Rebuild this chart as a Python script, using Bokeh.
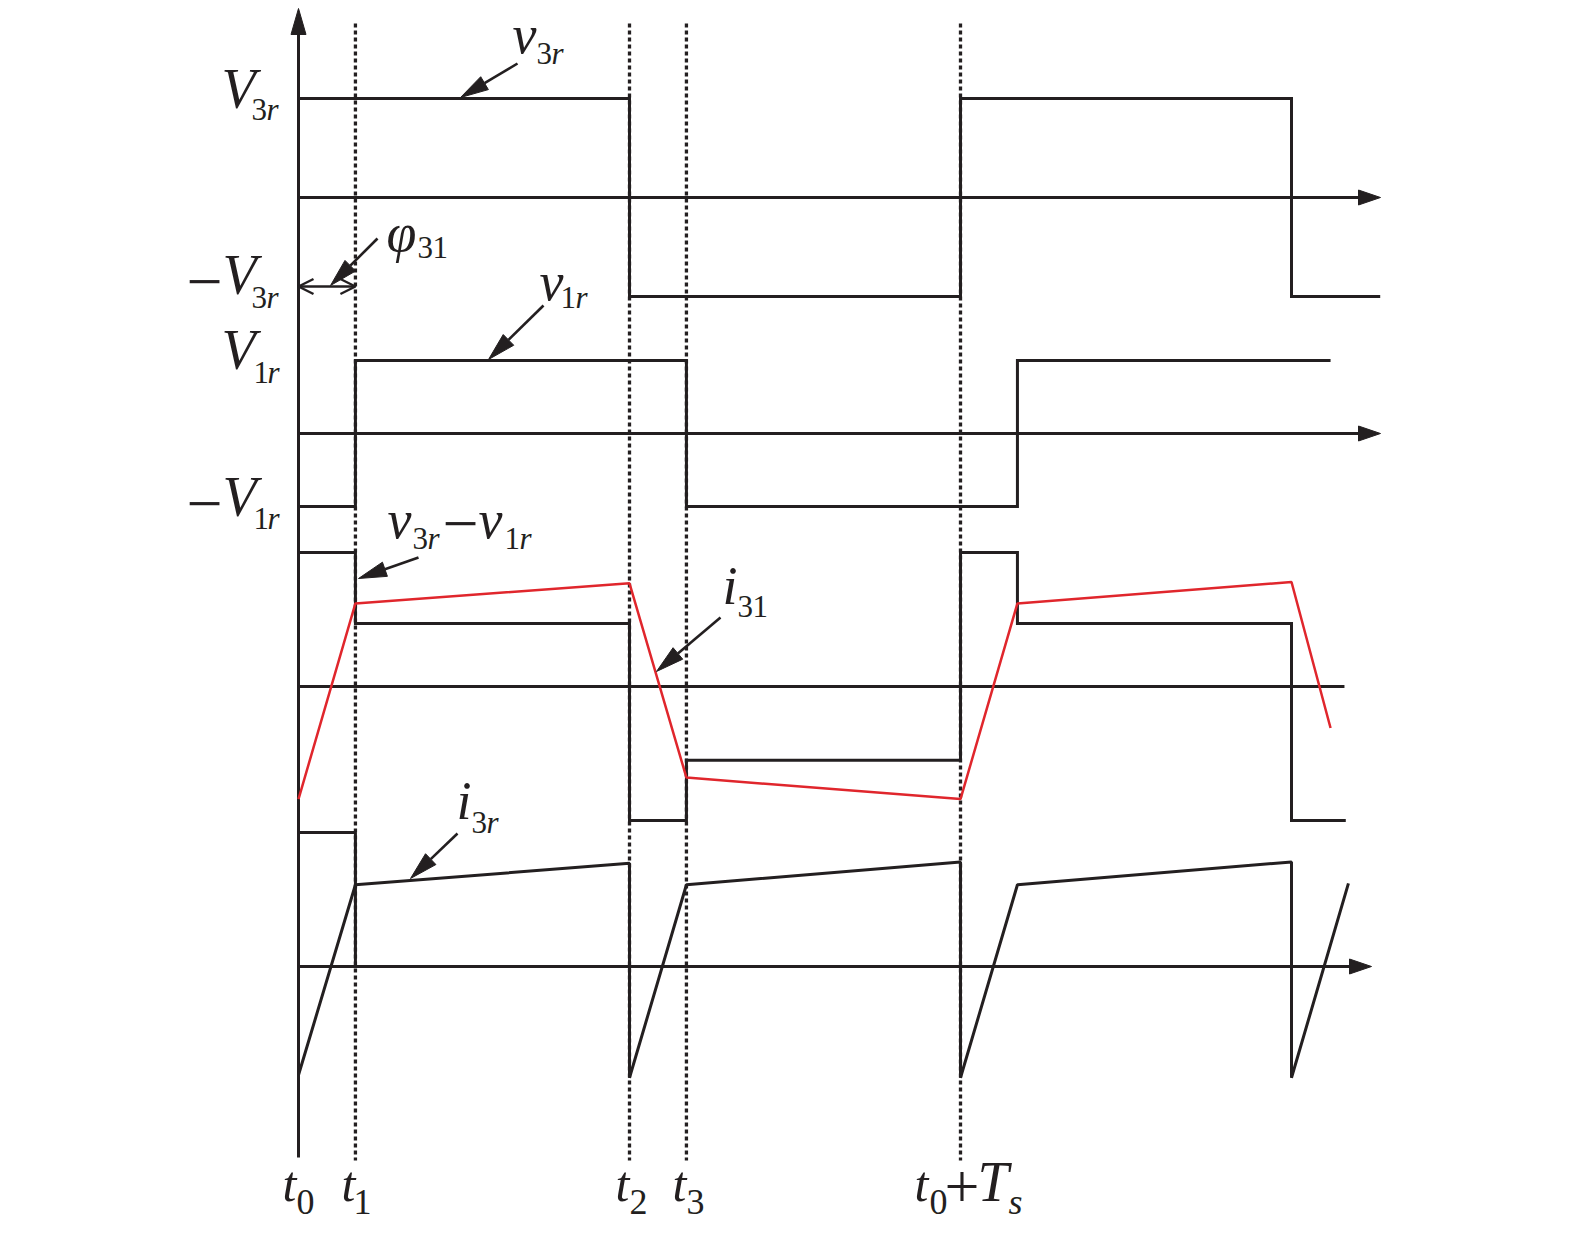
import numpy as np
from bokeh.plotting import figure
from bokeh.models import Range1d, Arrow, OpenHead
from bokeh.core.properties import value
from bokeh.embed import file_html
from bokeh.resources import INLINE

# ---------------- data (time normalised so that Ts = 1) ----------------
T_S = 1.0
t_marks = [0.0, 0.086, 0.5, 0.586, 1.0]          # t0, t1, t2, t3, t0+Ts
t_names = ["t0", "t1", "t2", "t3", "t0+Ts"]

# v3r : square wave, breakpoints and levels (per unit of V3r)
v3r_t = [0.0, 0.5, 1.0, 1.5, 1.634]
v3r_lvl = [1.0, -1.0, 1.0, -1.0]

# v1r : square wave shifted by phi31
v1r_t = [0.0, 0.086, 0.586, 1.086, 1.559]
v1r_lvl = [-1.0, 1.0, -1.0, 1.0]

# v3r - v1r : stepped wave
vd_t = [0.0, 0.086, 0.5, 0.586, 1.0, 1.086, 1.5, 1.582]
vd_lvl = [1.0, 0.47, -1.0, -0.55, 1.0, 0.47, -1.0]

# i31 : piecewise linear current (red)
i31_t = [0.0, 0.086, 0.5, 0.586, 1.0, 1.086, 1.5, 1.559]
i31_v = [-0.84, 0.62, 0.77, -0.68, -0.84, 0.62, 0.78, -0.31]

# i3r : piecewise linear current with jumps at t2, t0+Ts, t2+Ts
i3r_t = [0.0, 0.086, 0.5, 0.5, 0.586, 1.0, 1.0, 1.086, 1.5, 1.5, 1.586]
i3r_v = [-0.81, 0.61, 0.77, -0.83, 0.61, 0.78, -0.83, 0.61, 0.78, -0.83, 0.62]
i3r_box_t = [0.0, 0.086, 0.086]
i3r_box_v = [1.0, 1.0, 0.0]

# ---------------- layout ----------------
W, H = 1567, 1229
OFF = 0                          # screen offset of the canvas
X0, PX = 298.0, 662.0            # screen x of t0, px per Ts
PANEL = {"v3r": (197, 99), "v1r": (433, 73), "vd": (686, 134), "i3r": (966, 134)}
BLACK = "#231f20"
RED = "#e0262c"
FONT = value("'Liberation Serif', 'Times New Roman', serif")
LW = 3.0
BASE_FIX = 0.33                  # alphabetic-baseline correction (em)


def dx(X):
    return (X - X0) / PX


def dy(Y):
    return -Y


def panel_y(name, vals):
    base, sc = PANEL[name]
    return [-base + v * sc for v in vals]


def steps(ts, lv):
    xs, ys = [], []
    for k, l in enumerate(lv):
        xs += [ts[k], ts[k + 1]]
        ys += [l, l]
    return xs, ys


p = figure(width=W, height=H, output_backend="svg", toolbar_location=None,
           x_range=Range1d(dx(OFF), dx(OFF + W)), y_range=Range1d(dy(OFF + H), dy(OFF)),
           x_axis_type=None, y_axis_type=None, min_border=0)
p.grid.visible = False
p.outline_line_color = None
p.background_fill_color = "white"
p.border_fill_color = "white"


def tri(tip, frm, L=24, Wd=14):
    tx, ty = tip
    fx, fy = frm
    d = np.array([tx - fx, ty - fy], float)
    d /= np.hypot(*d)
    n = np.array([-d[1], d[0]])
    b = np.array([tx, ty]) - L * d
    c1 = b + n * Wd / 2
    c2 = b - n * Wd / 2
    return [dx(tx), dx(c1[0]), dx(c2[0])], [dy(ty), dy(c1[1]), dy(c2[1])], b


# dotted time markers
top_dot, bot_dot = 23, 1160
for tm in t_marks[1:]:
    p.line([tm, tm], [dy(top_dot), dy(bot_dot)], line_color=BLACK, line_width=3.3,
           line_dash="4 3")

# vertical axis with arrow
xs, ys, b = tri((X0, 8), (X0, 100), L=26, Wd=15)
p.patch(xs, ys, color=BLACK)
p.line([0, 0], [dy(1157), dy(b[1])], line_color=BLACK, line_width=LW)

# horizontal zero axes
for name, tip in (("v3r", 1380), ("v1r", 1380), ("i3r", 1371)):
    base = PANEL[name][0]
    xs, ys, b = tri((tip, base), (tip - 100, base), L=22, Wd=15)
    p.patch(xs, ys, color=BLACK)
    p.line([0, dx(b[0])], [-base, -base], line_color=BLACK, line_width=LW)
p.line([0, vd_t[-1] - 0.002], [-PANEL["vd"][0]] * 2, line_color=BLACK, line_width=LW)

# waveforms
for name, ts, lv in (("v3r", v3r_t, v3r_lvl), ("v1r", v1r_t, v1r_lvl), ("vd", vd_t, vd_lvl)):
    xs, ys = steps(ts, lv)
    p.line(xs, panel_y(name, ys), line_color=BLACK, line_width=LW, line_join="miter")

p.line(i3r_t, panel_y("i3r", i3r_v), line_color=BLACK, line_width=LW)
p.line(i3r_box_t, panel_y("i3r", i3r_box_v), line_color=BLACK, line_width=LW)
p.line(i31_t, panel_y("vd", i31_v), line_color=RED, line_width=2.5)

# phi31 double arrow
p.add_layout(Arrow(x_start=0, y_start=dy(286), x_end=t_marks[1], y_end=dy(286),
                   start=OpenHead(size=15, line_width=2.4, line_color=BLACK),
                   end=OpenHead(size=15, line_width=2.4, line_color=BLACK),
                   line_width=2.4, line_color=BLACK))

# label pointer arrows (screen px: start -> tip)
pointers = [((517, 63), (460, 97)), ((377, 238), (330, 285)), ((543, 305), (488, 359)),
            ((418, 557), (358, 578)), ((720, 617), (656, 671)), ((457, 833), (410, 878))]
for (sx, sy), (tx, ty) in pointers:
    xs, ys, b = tri((tx, ty), (sx, sy), L=28, Wd=15)
    p.patch(xs, ys, color=BLACK)
    p.line([dx(sx), dx(b[0])], [dy(sy), dy(b[1])], line_color=BLACK, line_width=2.6)

# text pieces: (text, X, baseline Y, size, style)
VV, M, S, BM, BS, MN = 56, 54, 31, 50, 36, 64
pieces = [
    ("V", 221, 107, VV, "italic"), ("3", 251, 119, S, "normal"), ("r", 266, 119, S, "italic"),
    ("\u2212", 186, 303, MN, "normal"), ("V", 222, 293, VV, "italic"), ("3", 251, 307, S, "normal"),
    ("r", 266, 307, S, "italic"),
    ("V", 221, 368, VV, "italic"), ("1", 253, 382, S, "normal"), ("r", 267, 382, S, "italic"),
    ("\u2212", 186, 525, MN, "normal"), ("V", 222, 515, VV, "italic"), ("1", 253, 528, S, "normal"),
    ("r", 267, 528, S, "italic"),
    ("v", 512, 52, M, "italic"), ("3", 536, 63, S, "normal"), ("r", 551, 63, S, "italic"),
    ("\u03c6", 386, 250, M, "italic"), ("3", 417, 257, S, "normal"), ("1", 432, 257, S, "normal"),
    ("v", 539, 299, M, "italic"), ("1", 560, 307, S, "normal"), ("r", 575, 307, S, "italic"),
    ("v", 387, 537, M, "italic"), ("3", 412, 548, S, "normal"), ("r", 427, 548, S, "italic"),
    ("\u2212", 442, 545, MN, "normal"), ("v", 478, 537, M, "italic"), ("1", 504, 548, S, "normal"),
    ("r", 519, 548, S, "italic"),
    ("i", 722, 603, M, "italic"), ("3", 737, 616, S, "normal"), ("1", 752, 616, S, "normal"),
    ("i", 456, 818, M, "italic"), ("3", 471, 832, S, "normal"), ("r", 486, 832, S, "italic"),
    ("t", 282, 1200, BM, "italic"), ("0", 296, 1213, BS, "normal"),
    ("t", 341, 1200, BM, "italic"), ("1", 353, 1213, BS, "normal"),
    ("t", 615, 1200, BM, "italic"), ("2", 629, 1213, BS, "normal"),
    ("t", 672, 1200, BM, "italic"), ("3", 686, 1213, BS, "normal"),
    ("t", 914, 1200, BM, "italic"), ("0", 929, 1213, BS, "normal"), ("+", 944, 1207, 62, "normal"),
    ("T", 977, 1200, 56, "italic"), ("s", 1008, 1213, BS, "italic"),
]
for txt, X, Y, sz, st in pieces:
    p.text(x=[dx(X)], y=[dy(Y - BASE_FIX * sz)], text=[txt], text_font=FONT,
           text_font_size=value(f"{sz}px"), text_font_style=st, text_color=BLACK,
           text_baseline="alphabetic", text_align="left")

open("out.html", "w").write(file_html(p, INLINE))
